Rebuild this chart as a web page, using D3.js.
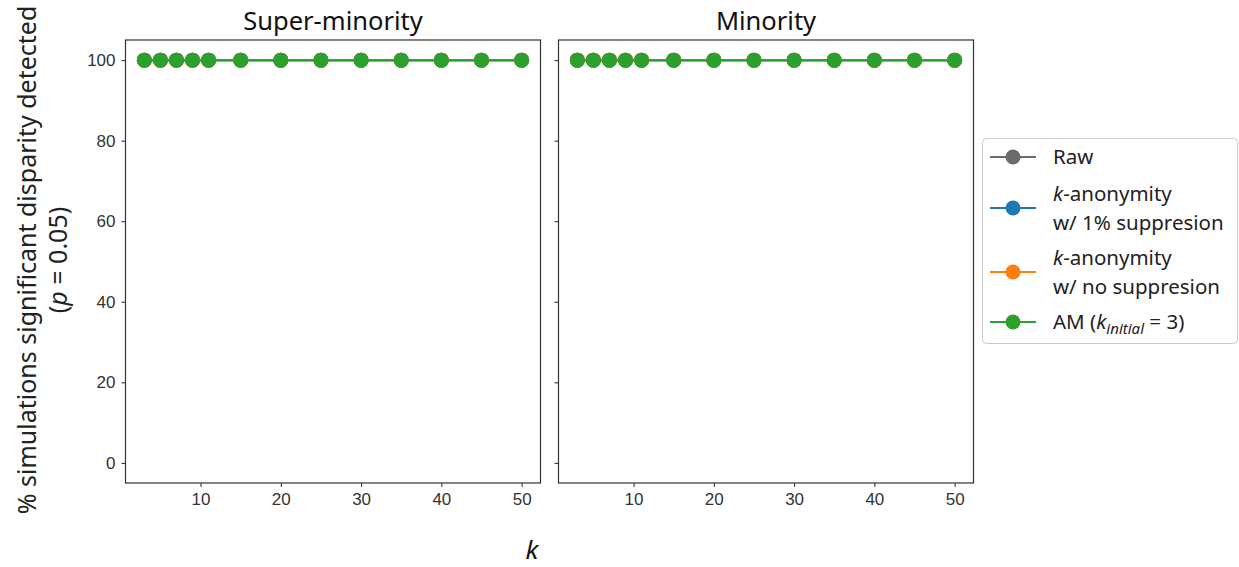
<!DOCTYPE html>
<html>
<head>
<meta charset="utf-8">
<script src="https://cdn.jsdelivr.net/npm/d3@7"></script>
<style>
  html, body { margin: 0; padding: 0; background: #fff; }
  svg { display: block; font-family: "Noto Sans", Lato, sans-serif; }
</style>
</head>
<body>
<svg id="chart" width="1239" height="567"></svg>
<script>
// k values on the x axis
const kValues = [3, 5, 7, 9, 11, 15, 20, 25, 30, 35, 40, 45, 50];
const panels = ["Super-minority", "Minority"];
const seriesNames = ["Raw", "k-anon 1%", "k-anon none", "AM"];
const seriesColors = ["#6b6b6b", "#1f77b4", "#ff7f0e", "#2ca02c"];

// % of simulations with a significant disparity, per panel and series
const superRaw   = [100, 100, 100, 100, 100, 100, 100, 100, 100, 100, 100, 100, 100];
const superK1    = [100, 100, 100, 100, 100, 100, 100, 100, 100, 100, 100, 100, 100];
const superKNone = [100, 100, 100, 100, 100, 100, 100, 100, 100, 100, 100, 100, 100];
const superAM    = [100, 100, 100, 100, 100, 100, 100, 100, 100, 100, 100, 100, 100];
const minRaw     = [100, 100, 100, 100, 100, 100, 100, 100, 100, 100, 100, 100, 100];
const minK1      = [100, 100, 100, 100, 100, 100, 100, 100, 100, 100, 100, 100, 100];
const minKNone   = [100, 100, 100, 100, 100, 100, 100, 100, 100, 100, 100, 100, 100];
const minAM      = [100, 100, 100, 100, 100, 100, 100, 100, 100, 100, 100, 100, 100];

const xTicks = [10, 20, 30, 40, 50];
const yTicks = [0, 20, 40, 60, 80, 100];

const panelData = [
  [superRaw, superK1, superKNone, superAM],
  [minRaw, minK1, minKNone, minAM]
];

const svg = d3.select("#chart");
const plotTop = 40, plotBottom = 483;
const panelLefts = [125.5, 558.5];
const panelWidth = 415;

const y = d3.scaleLinear().domain([-5, 105]).range([plotBottom, plotTop]);
const kExt = d3.extent(kValues);
const pad = (kExt[1] - kExt[0]) * 0.05;

panels.forEach((title, pi) => {
  const left = panelLefts[pi];
  const x = d3.scaleLinear().domain([kExt[0] - pad, kExt[1] + pad]).range([left, left + panelWidth]);
  const g = svg.append("g");

  // axes
  const xAxis = g.append("g").attr("transform", `translate(0,${plotBottom})`)
    .call(d3.axisBottom(x).tickValues(xTicks).tickSize(4).tickPadding(6));
  const yAxis = g.append("g").attr("transform", `translate(${left},0)`)
    .call(d3.axisLeft(y).tickValues(yTicks).tickSize(4).tickPadding(6)
      .tickFormat(pi === 0 ? d3.format("d") : () => ""));
  [xAxis, yAxis].forEach(a => {
    a.select(".domain").remove();
    a.selectAll("line").attr("stroke", "#222").attr("stroke-width", 1);
    a.selectAll("text").attr("fill", "#333").style("font-size", "17px");
  });

  // series: lines with circle markers
  panelData[pi].forEach((vals, si) => {
    const pts = kValues.map((k, i) => [x(k), y(vals[i])]);
    g.append("path")
      .attr("d", d3.line()(pts))
      .attr("fill", "none")
      .attr("stroke", seriesColors[si])
      .attr("stroke-width", 2);
    g.selectAll(null).data(pts).enter().append("circle")
      .attr("cx", d => d[0]).attr("cy", d => d[1]).attr("r", 7.5)
      .attr("fill", seriesColors[si]);
  });

  // frame
  g.append("rect")
    .attr("x", left).attr("y", plotTop).attr("width", panelWidth).attr("height", plotBottom - plotTop)
    .attr("fill", "none").attr("stroke", "#333").attr("stroke-width", 1.2);

  // title
  g.append("text")
    .attr("x", left + panelWidth / 2).attr("y", 30)
    .attr("text-anchor", "middle")
    .attr("fill", "#111").style("font-size", "25.5px")
    .text(title);
});

// y label
const yl = svg.append("text")
  .attr("transform", "translate(0,260) rotate(-90)")
  .attr("text-anchor", "middle").attr("fill", "#222").style("font-size", "25px");
yl.append("tspan").attr("x", 0).attr("y", 36).text("% simulations significant disparity detected");
const yl2 = yl.append("tspan").attr("x", 0).attr("y", 67);
yl2.text("(");
yl2.append("tspan").style("font-style", "italic").text("p");
yl2.append("tspan").text(" = 0.05)");

// x label
svg.append("text")
  .attr("x", 532).attr("y", 559)
  .attr("text-anchor", "middle").attr("fill", "#111")
  .style("font-size", "26px").style("font-style", "italic")
  .text("k");

// legend
const lg = svg.append("g");
lg.append("rect")
  .attr("x", 982.5).attr("y", 138.5).attr("width", 255).attr("height", 205)
  .attr("rx", 4).attr("fill", "#fff").attr("stroke", "#ccc").attr("stroke-width", 1);

const legendRows = [
  { cy: 157, lines: [[{ t: "Raw" }]] },
  { cy: 208, lines: [[{ t: "k", i: true }, { t: "-anonymity" }], [{ t: "w/ 1% suppresion" }]] },
  { cy: 272, lines: [[{ t: "k", i: true }, { t: "-anonymity" }], [{ t: "w/ no suppresion" }]] },
  { cy: 322, lines: [[{ t: "AM (" }, { t: "k", i: true }, { t: "initial", i: true, sub: true }, { t: " = 3)", up: true }]] }
];
legendRows.forEach((row, ri) => {
  const c = seriesColors[ri];
  lg.append("line").attr("x1", 990).attr("x2", 1036).attr("y1", row.cy).attr("y2", row.cy)
    .attr("stroke", c).attr("stroke-width", 2);
  lg.append("circle").attr("cx", 1013).attr("cy", row.cy).attr("r", 7.5).attr("fill", c);
  const n = row.lines.length;
  row.lines.forEach((parts, li) => {
    const baseY = row.cy + 7 + (li - (n - 1) / 2) * 29;
    const t = lg.append("text").attr("x", 1053).attr("y", baseY)
      .attr("fill", "#222").style("font-size", "20.5px");
    parts.forEach(p => {
      const s = t.append("tspan").text(p.t);
      if (p.i) s.style("font-style", "italic");
      if (p.sub) s.attr("dy", 5).style("font-size", "15px");
      if (p.up) s.attr("dy", -5);
    });
  });
});
</script>
</body>
</html>
